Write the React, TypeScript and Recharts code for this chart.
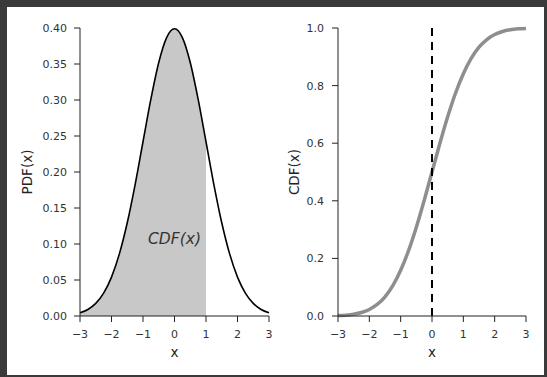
import React from 'react';
import {
    ComposedChart,
    Line,
    Area,
    XAxis,
    YAxis,
    ReferenceLine,
    ReferenceDot,
} from 'recharts';

// sample positions along x
const xs = [
    -3, -2.75, -2.5, -2.25, -2, -1.75, -1.5, -1.25, -1, -0.75, -0.5, -0.25, 0,
    0.25, 0.5, 0.75, 1, 1.25, 1.5, 1.75, 2, 2.25, 2.5, 2.75, 3,
];

// left panel curve (density)
const pdfValues = [
    0.0044, 0.0091, 0.0175, 0.0317, 0.054, 0.0863, 0.1295, 0.1826, 0.242,
    0.3011, 0.3521, 0.3867, 0.3989, 0.3867, 0.3521, 0.3011, 0.242, 0.1826,
    0.1295, 0.0863, 0.054, 0.0317, 0.0175, 0.0091, 0.0044,
];

// right panel curve (cumulative)
const cdfValues = [
    0.0013, 0.003, 0.0062, 0.0122, 0.0228, 0.0401, 0.0668, 0.1056, 0.1587,
    0.2266, 0.3085, 0.4013, 0.5, 0.5987, 0.6915, 0.7734, 0.8413, 0.8944,
    0.9332, 0.9599, 0.9772, 0.9878, 0.9938, 0.997, 0.9987,
];

const shadeUpTo = 1;
const markerX = 0;
const annotation = { x: 0, y: 0.107, text: 'CDF(x)' };

const xTicks = [-3, -2, -1, 0, 1, 2, 3];
const pdfTicks = [0, 0.05, 0.1, 0.15, 0.2, 0.25, 0.3, 0.35, 0.4];
const cdfTicks = [0, 0.2, 0.4, 0.6, 0.8, 1];

const pdfData = xs.map((x, i) => ({
    x,
    pdf: pdfValues[i],
    shade: x <= shadeUpTo ? pdfValues[i] : null,
}));
const cdfData = xs.map((x, i) => ({ x, cdf: cdfValues[i] }));

const FONT = '"DejaVu Sans", sans-serif';
const AXIS = '#222';
const tickStyle = { fontSize: 11, fill: '#333', fontFamily: FONT };
const fmtX = (v: number) => (v < 0 ? `\u2212${Math.abs(v)}` : `${v}`);

const yLabel = (text: string, cx: number) => (props: any) => {
    const vb = props.viewBox || {};
    const cy = vb.y + vb.height / 2;
    return (
        <text
            x={cx}
            y={cy}
            transform={`rotate(-90, ${cx}, ${cy})`}
            textAnchor="middle"
            dy="0.35em"
            fontSize={13.5}
            fontFamily={FONT}
            fill="#222"
        >
            {text}
        </text>
    );
};

const xLabel = (props: any) => {
    const vb = props.viewBox || {};
    return (
        <text
            x={vb.x + vb.width / 2}
            y={357}
            textAnchor="middle"
            fontSize={13.5}
            fontFamily={FONT}
            fill="#222"
        >
            x
        </text>
    );
};

const CHART_H = 377;
const MARGIN = { top: 28, right: 11, bottom: 21, left: 0 };

export default function App() {
    return (
        <div
            style={{
                position: 'absolute',
                left: 0,
                top: 0,
                width: 547,
                height: 377,
                background: '#3a3a3a',
                overflow: 'hidden',
            }}
        >
            <div
                style={{
                    position: 'absolute',
                    left: 7,
                    top: 7,
                    width: 537,
                    height: 368,
                    background: '#fff',
                }}
            />

            <div style={{ position: 'absolute', left: 0, top: 0 }}>
                <ComposedChart width={280} height={CHART_H} data={pdfData} margin={MARGIN}>
                    <XAxis
                        dataKey="x"
                        type="number"
                        domain={[-3, 3]}
                        ticks={xTicks}
                        tickFormatter={fmtX}
                        height={40}
                        tick={tickStyle}
                        tickSize={6}
                        tickMargin={8}
                        axisLine={{ stroke: AXIS }}
                        tickLine={{ stroke: AXIS }}
                        label={{ content: xLabel }}
                    />
                    <YAxis
                        type="number"
                        domain={[0, 0.4]}
                        ticks={pdfTicks}
                        tickFormatter={(v: number) => v.toFixed(2)}
                        width={80}
                        tick={tickStyle}
                        tickSize={6}
                        tickMargin={7}
                        axisLine={{ stroke: AXIS }}
                        tickLine={{ stroke: AXIS }}
                        label={{ content: yLabel('PDF(x)', 27.5) }}
                    />
                    <Area
                        dataKey="shade"
                        type="monotone"
                        fill="#c8c8c8"
                        fillOpacity={1}
                        stroke="none"
                        isAnimationActive={false}
                    />
                    <Line
                        dataKey="pdf"
                        type="monotone"
                        stroke="#000"
                        strokeWidth={1.6}
                        dot={false}
                        isAnimationActive={false}
                    />
                    <ReferenceDot
                        x={annotation.x}
                        y={annotation.y}
                        r={0}
                        shape={(p: any) => (
                            <text
                                x={p.cx}
                                y={p.cy}
                                dy="0.35em"
                                textAnchor="middle"
                                fontSize={15.5}
                                fontStyle="italic"
                                fontFamily={FONT}
                                fill="#333"
                            >
                                {annotation.text}
                            </text>
                        )}
                    />
                </ComposedChart>
            </div>

            <div style={{ position: 'absolute', left: 258, top: 0 }}>
                <ComposedChart
                    width={280}
                    height={CHART_H}
                    data={cdfData}
                    margin={{ ...MARGIN, right: 12 }}
                >
                    <XAxis
                        dataKey="x"
                        type="number"
                        domain={[-3, 3]}
                        ticks={xTicks}
                        tickFormatter={fmtX}
                        height={40}
                        tick={tickStyle}
                        tickSize={6}
                        tickMargin={8}
                        axisLine={{ stroke: AXIS }}
                        tickLine={{ stroke: AXIS }}
                        label={{ content: xLabel }}
                    />
                    <YAxis
                        type="number"
                        domain={[0, 1]}
                        ticks={cdfTicks}
                        tickFormatter={(v: number) => v.toFixed(1)}
                        width={80}
                        tick={tickStyle}
                        tickSize={6}
                        tickMargin={8}
                        axisLine={{ stroke: AXIS }}
                        tickLine={{ stroke: AXIS }}
                        label={{ content: yLabel('CDF(x)', 36.5) }}
                    />
                    <Line
                        dataKey="cdf"
                        type="monotone"
                        stroke="#8e8e8e"
                        strokeWidth={3.5}
                        dot={false}
                        isAnimationActive={false}
                    />
                    <ReferenceLine
                        x={markerX}
                        stroke="#000"
                        strokeWidth={2}
                        strokeDasharray="8 6"
                    />
                </ComposedChart>
            </div>
        </div>
    );
}
